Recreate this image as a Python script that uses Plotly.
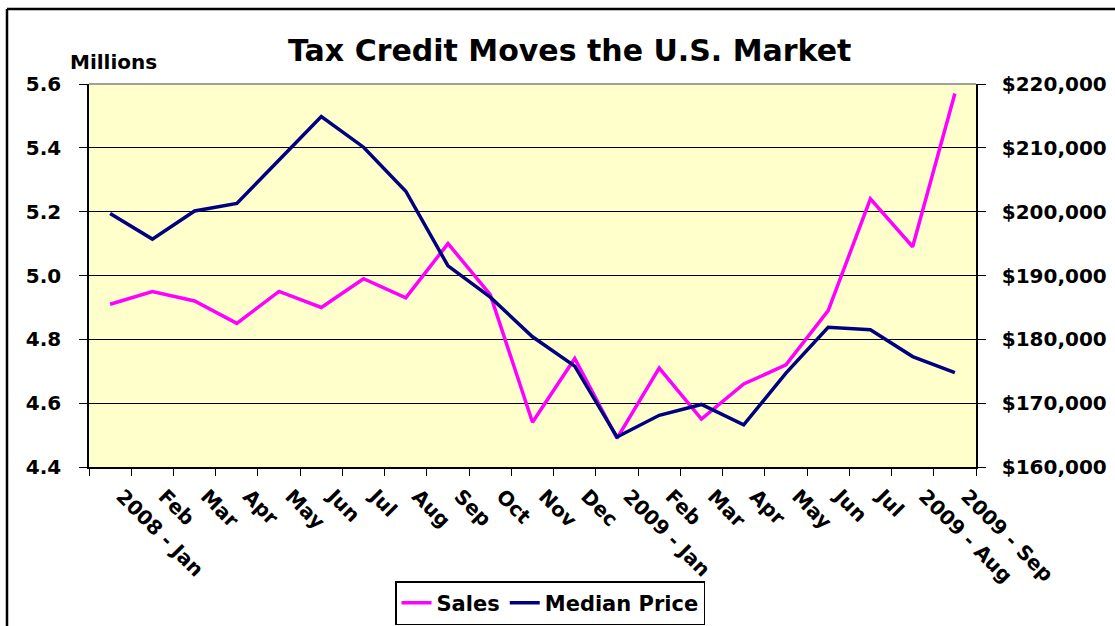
import plotly.graph_objects as go

months = ["2008 - Jan", "Feb", "Mar", "Apr", "May", "Jun", "Jul", "Aug", "Sep", "Oct", "Nov", "Dec",
          "2009 - Jan", "Feb ", "Mar ", "Apr ", "May ", "Jun ", "Jul ", "2009 - Aug", "2009 - Sep"]
sales = [4.91, 4.95, 4.92, 4.85, 4.95, 4.90, 4.99, 4.93, 5.10, 4.94, 4.54, 4.74,
         4.49, 4.71, 4.55, 4.66, 4.72, 4.89, 5.24, 5.09, 5.57]
median_price = [199700, 195700, 200100, 201300, 208100, 214900, 210100, 203200, 191500, 186600,
                180400, 175800, 164700, 168100, 169800, 166600, 174700, 181900, 181500, 177300, 174800]

FONT = "DejaVu Sans"
L, R, T, B = 89, 139, 84, 159
W, H = 1115, 626
PW, PH = W - L - R, H - T - B

def px(x):
    return (x - L) / PW

def py(y):
    return (H - B - y) / PH

fig = go.Figure()
fig.add_trace(go.Scatter(x=months, y=sales, name="Sales", mode="lines",
                         line=dict(color="#FF00FF", width=3.5), yaxis="y"))
fig.add_trace(go.Scatter(x=months, y=median_price, name="Median Price", mode="lines",
                         line=dict(color="#000080", width=3.5), yaxis="y2"))

tickfont = dict(family=FONT, size=20, color="black", weight="bold")

fig.update_layout(
    width=W, height=H,
    margin=dict(l=L, r=R, t=T, b=B, autoexpand=False),
    paper_bgcolor="white",
    plot_bgcolor="#FFFFCC",
    showlegend=True,
    legend=dict(orientation="h", x=px(550), xanchor="center", y=py(581), yanchor="top",
                font=dict(family=FONT, size=21, color="black", weight="bold"),
                bordercolor="black", borderwidth=1.5, bgcolor="white",
                itemwidth=30, tracegroupgap=0),
    xaxis=dict(type="category", tickangle=45, tickfont=tickfont, showgrid=False,
               showline=True, linecolor="black", linewidth=1.5,
               ticks="outside", ticklen=7, tickcolor="black", tickson="boundaries",
               ticklabelstandoff=8, ticklabelshift=12, automargin=False,
               range=[-0.5, len(months) - 0.5], fixedrange=True),
    yaxis=dict(range=[4.4, 5.6], dtick=0.2, tickformat=".1f", tickfont=tickfont,
               showgrid=True, gridcolor="black", gridwidth=1, automargin=False,
               showline=True, linecolor="black", linewidth=1.5,
               ticks="outside", ticklen=8, tickcolor="black", ticklabelstandoff=14,
               zeroline=False),
    yaxis2=dict(range=[160000, 220000], dtick=10000, tickformat="$,.0f", tickfont=tickfont,
                overlaying="y", side="right", showgrid=False, automargin=False,
                showline=True, linecolor="black", linewidth=1.5,
                ticks="outside", ticklen=8, tickcolor="black", ticklabelstandoff=12,
                zeroline=False),
    annotations=[
        dict(text="Tax Credit Moves the U.S. Market", x=px(569), y=py(51), xref="paper", yref="paper",
             xanchor="center", yanchor="middle", showarrow=False,
             font=dict(family=FONT, size=30, color="black", weight="bold")),
        dict(text="Millions", x=px(68), y=py(62), xref="paper", yref="paper",
             xanchor="left", yanchor="middle", showarrow=False,
             font=dict(family=FONT, size=20, color="black", weight="bold")),
    ],
    shapes=[
        dict(type="line", xref="paper", yref="paper", x0=0, x1=1, y0=1, y1=1,
             line=dict(color="#808080", width=1.5)),
        dict(type="line", xref="paper", yref="paper", x0=px(7), x1=px(1130), y0=py(9), y1=py(9),
             line=dict(color="black", width=2.5)),
        dict(type="line", xref="paper", yref="paper", x0=px(7), x1=px(7), y0=py(9), y1=py(640),
             line=dict(color="black", width=2.5)),
    ],
)

fig.write_html("out.html")
